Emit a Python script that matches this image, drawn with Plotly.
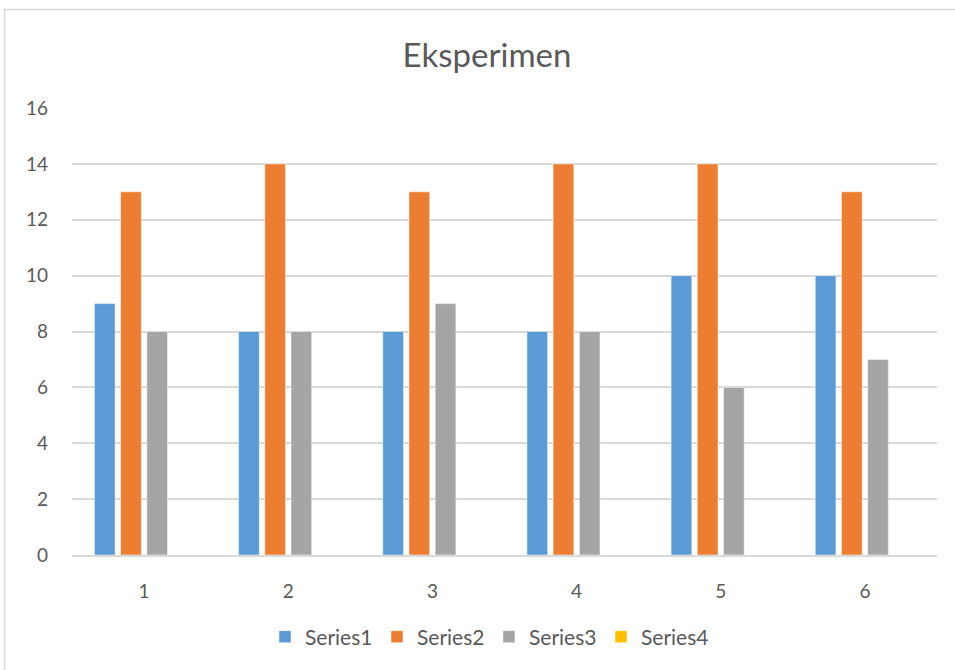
import plotly.graph_objects as go

# Experiment results: six trials, four series (Series4 has no data)
categories = ["1", "2", "3", "4", "5", "6"]
series1 = [9, 8, 8, 8, 10, 10]
series2 = [13, 14, 13, 14, 14, 13]
series3 = [8, 8, 9, 8, 6, 7]
series4 = [None, None, None, None, None, None]
series_names = ["Series1", "Series2", "Series3", "Series4"]
y_ticks = [0, 2, 4, 6, 8, 10, 12, 14, 16]
y_max = 16

colors = ["#5B9BD5", "#ED7D31", "#A5A5A5", "#FFC000"]
font_family = "Lato, Carlito, Calibri, sans-serif"
text_color = "#595959"
grid_color = "#D9D9D9"

fig = go.Figure()
for name, values, color in zip(series_names, [series1, series2, series3, series4], colors):
    fig.add_trace(go.Bar(
        x=categories,
        y=values,
        name=name,
        marker=dict(color=color, line=dict(color="rgba(255,255,255,0.6)", width=0.8)),
    ))

W, H = 955, 670
ml, mr, mt, mb = 72, 18, 107, 115
pw, ph = W - ml - mr, H - mt - mb
# small headroom so the top gridline is drawn inside the plot area
y_top = y_max * (ph / (ph - 1))

fig.update_layout(
    width=W,
    height=H,
    margin=dict(l=ml, r=mr, t=mt, b=mb, pad=0),
    paper_bgcolor="white",
    plot_bgcolor="white",
    barmode="group",
    bargap=0.273,
    bargroupgap=0.21,
    font=dict(family=font_family, color=text_color, size=19),
    title=dict(
        text="Eksperimen",
        x=487 / W, xanchor="center",
        y=1 - 55 / H, yanchor="middle",
        yref="container", xref="container",
        font=dict(size=33, color=text_color, family=font_family),
    ),
    legend=dict(
        orientation="h",
        x=(489 - ml) / pw, xanchor="center",
        y=-(637 - (mt + ph)) / ph, yanchor="middle",
        font=dict(size=21, color=text_color),
        itemwidth=30,
        entrywidth=67,
        entrywidthmode="pixels",
        traceorder="normal",
    ),
    xaxis=dict(
        type="category",
        showgrid=False,
        showline=True,
        linecolor=grid_color,
        linewidth=1.5,
        ticks="",
        ticklabelstandoff=18,
        tickfont=dict(size=19, color=text_color),
    ),
    yaxis=dict(
        range=[0, y_top],
        tickvals=y_ticks,
        showgrid=True,
        gridcolor=grid_color,
        gridwidth=1.5,
        zeroline=False,
        ticks="",
        ticklabelstandoff=23,
        tickfont=dict(size=19, color=text_color),
    ),
    shapes=[
        # chart-area frame (left and top edges visible in the window)
        dict(
            type="rect", xref="paper", yref="paper",
            x0=(4.5 - ml) / pw, x1=(W + 20 - ml) / pw,
            y0=(mt + ph - (H + 20)) / ph, y1=(mt + ph - 9.5) / ph,
            line=dict(color=grid_color, width=1.5),
            fillcolor="rgba(0,0,0,0)",
            layer="below",
        )
    ],
)

fig.write_html("out.html")
